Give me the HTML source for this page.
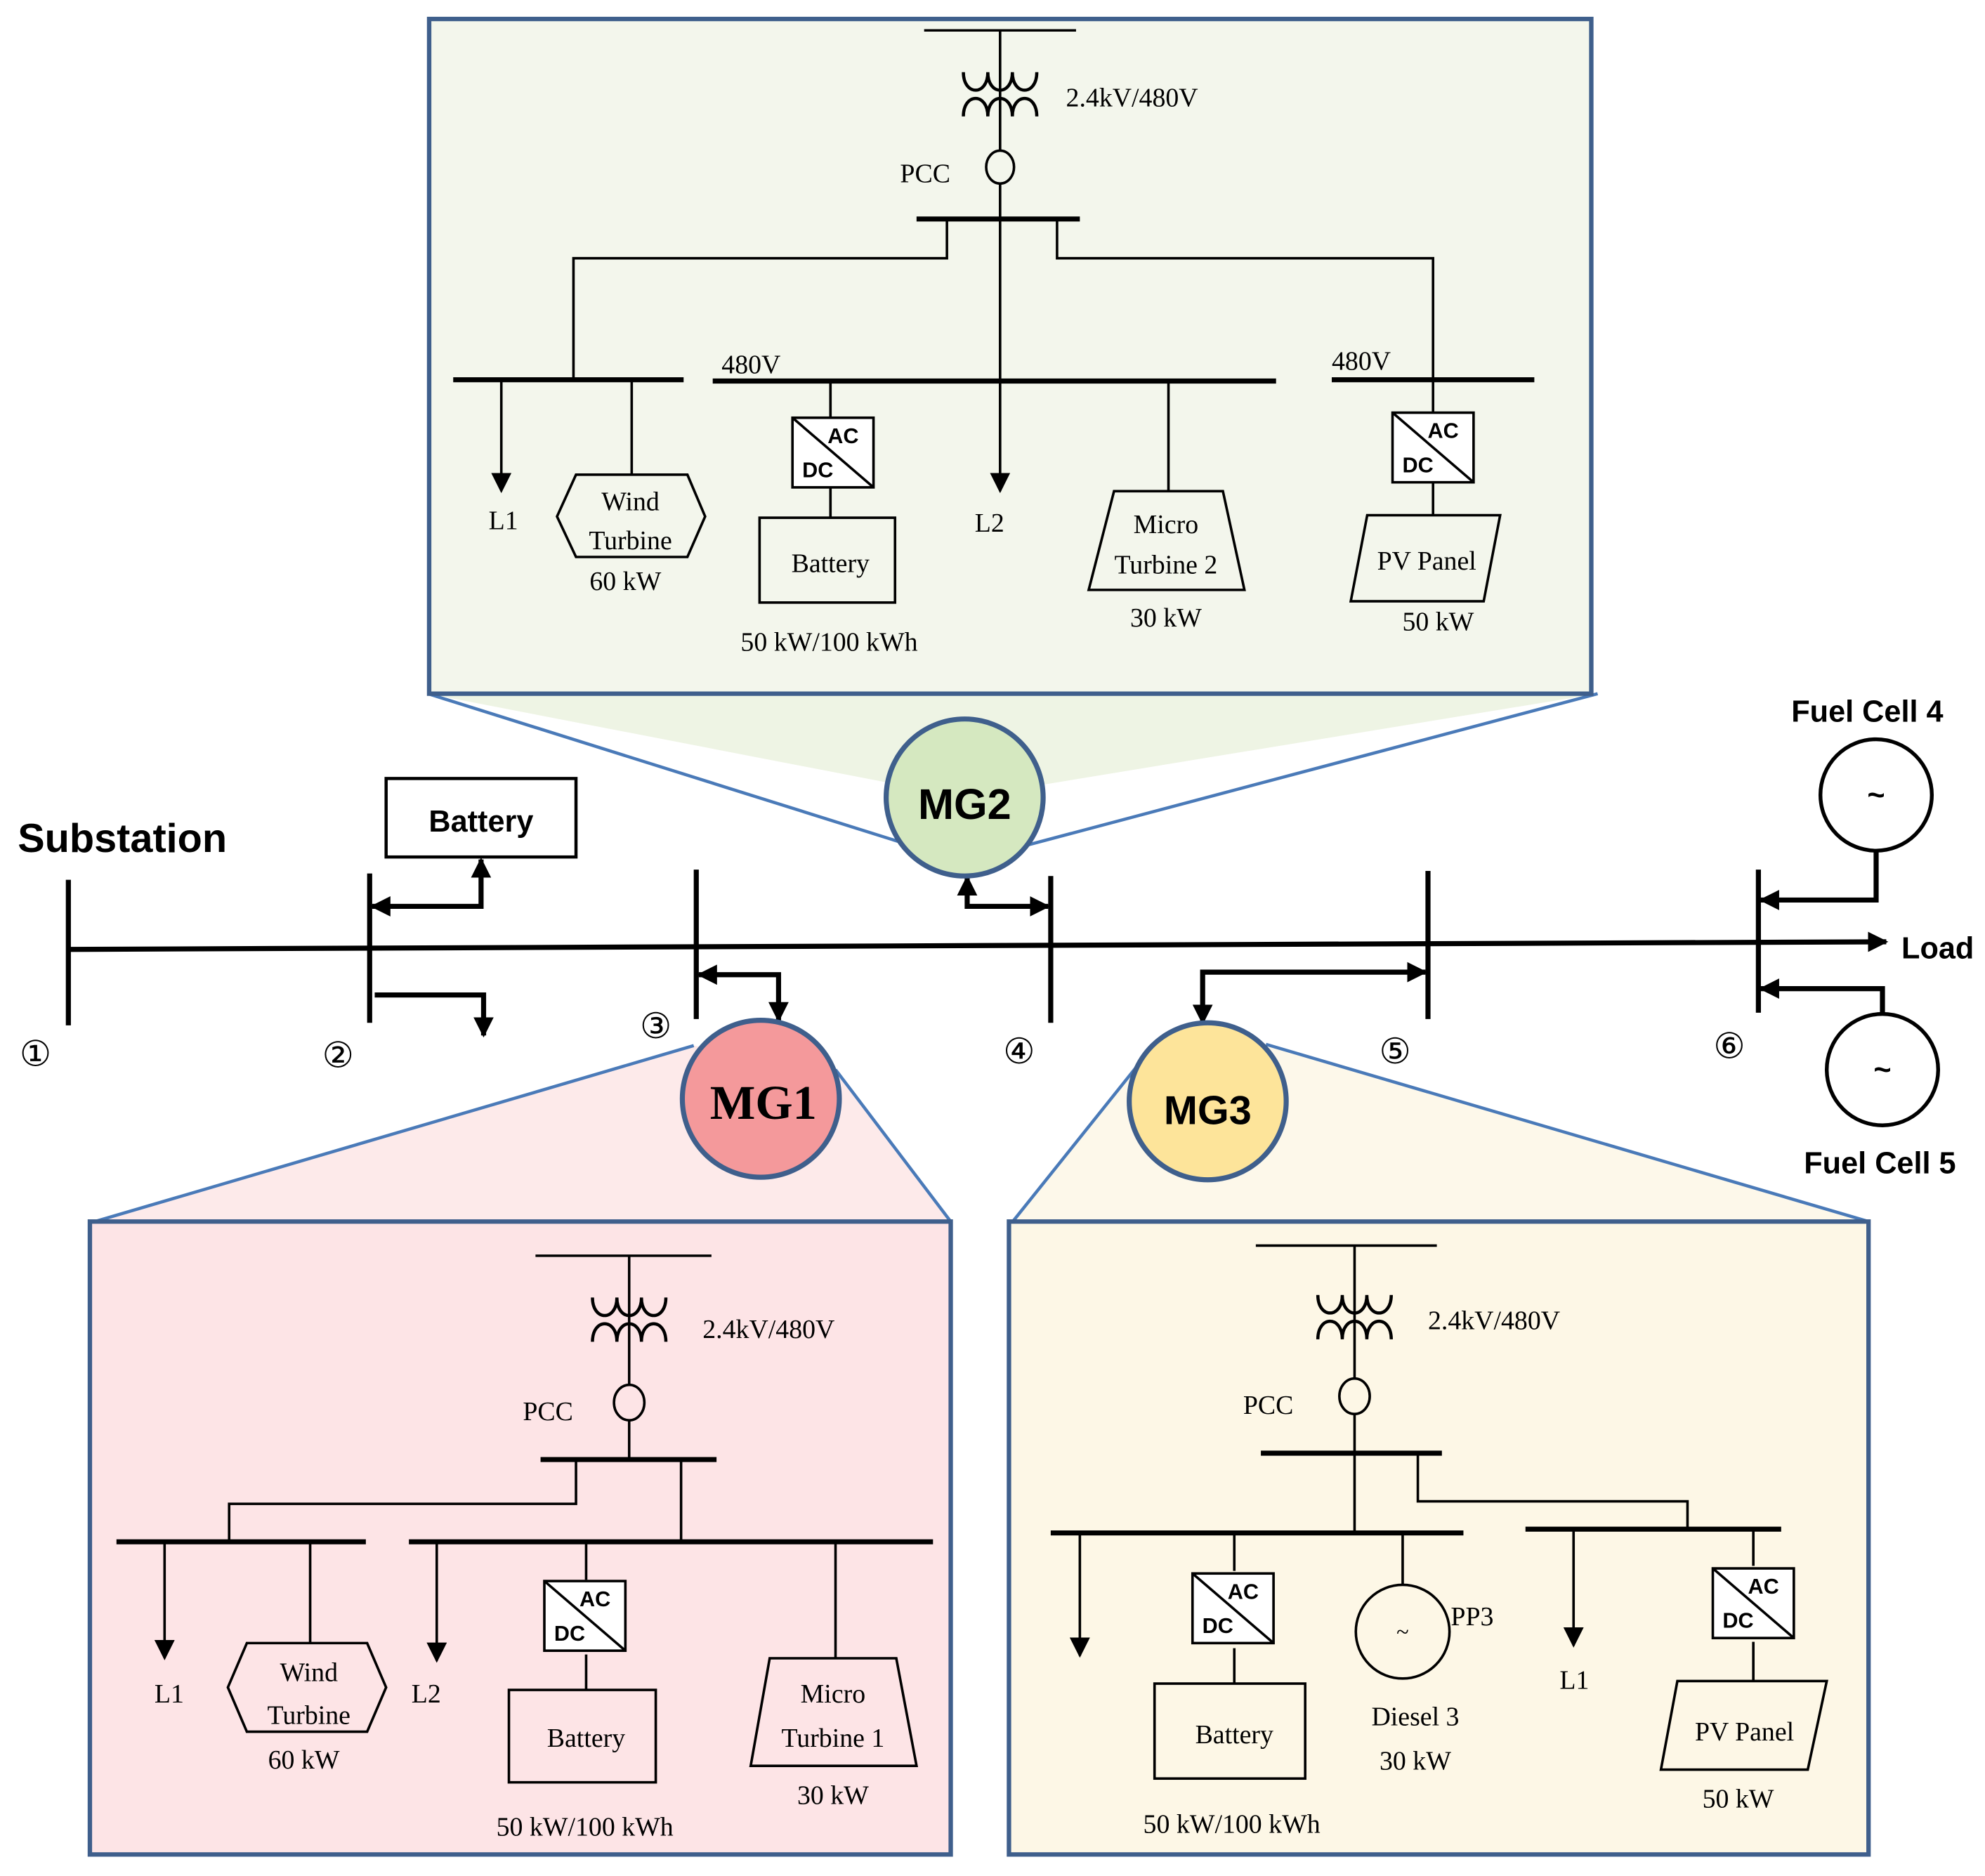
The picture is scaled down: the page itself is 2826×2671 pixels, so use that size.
<!DOCTYPE html>
<html><head><meta charset="utf-8"><style>html,body{margin:0;padding:0;background:#fff}svg{display:block}</style></head><body>
<svg width="2826" height="2671" viewBox="0 0 1568 1482" xmlns="http://www.w3.org/2000/svg">
<defs>
<marker id="a" viewBox="0 0 10 10" refX="9" refY="5" markerWidth="4" markerHeight="4" orient="auto-start-reverse" markerUnits="strokeWidth"><path d="M0,0L10,5L0,10z" fill="#000"/></marker>
<marker id="s" viewBox="0 0 10 10" refX="9" refY="5" markerWidth="8" markerHeight="8" orient="auto" markerUnits="strokeWidth"><path d="M0,0L10,5L0,10z" fill="#000"/></marker>
<g id="tx" fill="none" stroke="#000" stroke-width="2.5">
<path d="M-29,-17 C-29,2 -9.7,2 -9.7,-17 C-9.7,2 9.7,2 9.7,-17 C9.7,2 29,2 29,-17"/>
<path d="M-29,18 C-29,-1 -9.7,-1 -9.7,18 C-9.7,-1 9.7,-1 9.7,18 C9.7,-1 29,-1 29,18"/>
</g>
<g id="acdc"><rect x="0" y="0" width="64" height="55" fill="#fff" stroke="#000" stroke-width="2"/><line x1="0" y1="0" x2="64" y2="55" stroke="#000" stroke-width="2"/><text x="40" y="20" font-family="Liberation Sans,sans-serif" font-weight="bold" font-size="17" text-anchor="middle">AC</text><text x="20" y="47" font-family="Liberation Sans,sans-serif" font-weight="bold" font-size="17" text-anchor="middle">DC</text></g>
</defs>

<!-- MG2 panel -->
<polygon points="338,548 1262,548 762,630" fill="#eef4e4"/>
<line x1="338" y1="548" x2="720" y2="668" stroke="#4a7ab8" stroke-width="2.5"/>
<line x1="1262" y1="548" x2="810" y2="668" stroke="#4a7ab8" stroke-width="2.5"/>
<rect x="339" y="15" width="918" height="533" fill="#f3f6ec" stroke="#3f5f8c" stroke-width="3.5"/>
<!-- MG1 panel -->
<polygon points="75,965 751,965 660,845 548,826" fill="#fdeaea"/>
<line x1="75" y1="965" x2="548" y2="826" stroke="#4a7ab8" stroke-width="2.5"/>
<line x1="751" y1="965" x2="660" y2="845" stroke="#4a7ab8" stroke-width="2.5"/>
<rect x="71" y="965" width="680" height="500" fill="#fde4e6" stroke="#3f5f8c" stroke-width="3.5"/>
<!-- MG3 panel -->
<polygon points="800,965 1476,965 1000,825 900,840" fill="#fdf8ea"/>
<line x1="800" y1="965" x2="900" y2="840" stroke="#4a7ab8" stroke-width="2.5"/>
<line x1="1476" y1="965" x2="1000" y2="825" stroke="#4a7ab8" stroke-width="2.5"/>
<rect x="797" y="965" width="679" height="500" fill="#fdf7e6" stroke="#3f5f8c" stroke-width="3.5"/>

<g font-family="Liberation Serif,serif" font-size="21" fill="#000">
<!-- MG2 content -->
<g stroke="#000" stroke-width="2" fill="none">
<line x1="730" y1="24" x2="850" y2="24"/><line x1="790" y1="24" x2="790" y2="119"/>
<ellipse cx="790" cy="132" rx="11" ry="13"/>
<line x1="790" y1="145" x2="790" y2="301"/>
<line x1="724" y1="173" x2="853" y2="173" stroke-width="4"/>
<polyline points="748,173 748,204 453,204 453,300"/>
<polyline points="835,173 835,204 1132,204 1132,300"/>
<line x1="358" y1="300" x2="540" y2="300" stroke-width="4"/>
<line x1="563" y1="301" x2="1008" y2="301" stroke-width="4"/>
<line x1="1052" y1="300" x2="1212" y2="300" stroke-width="4"/>
<line x1="396" y1="300" x2="396" y2="388" marker-end="url(#s)"/>
<line x1="499" y1="300" x2="499" y2="375"/>
<polygon points="455,375 543,375 557,408 543,440 455,440 440,408"/>
<line x1="656" y1="301" x2="656" y2="330"/><line x1="656" y1="383" x2="656" y2="409"/>
<rect x="600" y="409" width="107" height="67"/>
<line x1="790" y1="301" x2="790" y2="388" marker-end="url(#s)"/>
<line x1="923" y1="301" x2="923" y2="388"/>
<polygon points="880,388 966,388 983,466 860,466"/>
<line x1="1132" y1="300" x2="1132" y2="326"/><line x1="1132" y1="380" x2="1132" y2="407"/>
<polygon points="1080,407 1185,407 1172,475 1067,475"/>
</g>
<use href="#tx" x="790" y="74"/>
<use href="#acdc" x="626" y="330"/>
<use href="#acdc" x="1100" y="326"/>
<text x="842" y="84">2.4kV/480V</text><text x="711" y="144">PCC</text>
<text x="570" y="295">480V</text><text x="1052" y="292">480V</text>
<text x="386" y="418">L1</text><text x="770" y="420">L2</text>
<text x="498" y="403" text-anchor="middle">Wind</text><text x="498" y="434" text-anchor="middle">Turbine</text><text x="494" y="466" text-anchor="middle">60 kW</text>
<text x="656" y="452" text-anchor="middle">Battery</text><text x="655" y="514" text-anchor="middle">50 kW/100 kWh</text>
<text x="921" y="421" text-anchor="middle">Micro</text><text x="921" y="453" text-anchor="middle">Turbine 2</text><text x="921" y="495" text-anchor="middle">30 kW</text>
<text x="1127" y="450" text-anchor="middle">PV Panel</text><text x="1136" y="498" text-anchor="middle">50 kW</text>

<!-- MG1 content -->
<g stroke="#000" stroke-width="2" fill="none">
<line x1="423" y1="992" x2="562" y2="992"/><line x1="497" y1="992" x2="497" y2="1094"/>
<ellipse cx="497" cy="1108" rx="12" ry="14"/>
<line x1="497" y1="1122" x2="497" y2="1153"/>
<line x1="427" y1="1153" x2="566" y2="1153" stroke-width="4"/>
<polyline points="455,1153 455,1188 181,1188 181,1218"/>
<line x1="538" y1="1153" x2="538" y2="1218"/>
<line x1="92" y1="1218" x2="289" y2="1218" stroke-width="4"/>
<line x1="323" y1="1218" x2="737" y2="1218" stroke-width="4"/>
<line x1="130" y1="1218" x2="130" y2="1310" marker-end="url(#s)"/>
<line x1="245" y1="1218" x2="245" y2="1298"/>
<polygon points="195,1298 290,1298 305,1333 290,1368 195,1368 180,1333"/>
<line x1="345" y1="1218" x2="345" y2="1312" marker-end="url(#s)"/>
<line x1="463" y1="1218" x2="463" y2="1248"/><line x1="463" y1="1307" x2="463" y2="1335"/>
<rect x="402" y="1335" width="116" height="73"/>
<line x1="660" y1="1218" x2="660" y2="1310"/>
<polygon points="608,1310 708,1310 724,1395 593,1395"/>
</g>
<use href="#tx" x="497" y="1042"/>
<use href="#acdc" x="430" y="1249"/>
<text x="555" y="1057">2.4kV/480V</text><text x="413" y="1122">PCC</text>
<text x="122" y="1345">L1</text><text x="325" y="1345">L2</text>
<text x="244" y="1328" text-anchor="middle">Wind</text><text x="244" y="1362" text-anchor="middle">Turbine</text><text x="240" y="1397" text-anchor="middle">60 kW</text>
<text x="463" y="1380" text-anchor="middle">Battery</text><text x="462" y="1450" text-anchor="middle">50 kW/100 kWh</text>
<text x="658" y="1345" text-anchor="middle">Micro</text><text x="658" y="1380" text-anchor="middle">Turbine 1</text><text x="658" y="1425" text-anchor="middle">30 kW</text>

<!-- MG3 content -->
<g stroke="#000" stroke-width="2" fill="none">
<line x1="992" y1="984" x2="1135" y2="984"/><line x1="1070" y1="984" x2="1070" y2="1089"/>
<ellipse cx="1070" cy="1103" rx="12" ry="14"/>
<line x1="1070" y1="1117" x2="1070" y2="1211"/>
<line x1="996" y1="1148" x2="1139" y2="1148" stroke-width="4"/>
<polyline points="1120,1148 1120,1186 1333,1186 1333,1208"/>
<line x1="830" y1="1211" x2="1156" y2="1211" stroke-width="4"/>
<line x1="1205" y1="1208" x2="1407" y2="1208" stroke-width="4"/>
<line x1="853" y1="1211" x2="853" y2="1308" marker-end="url(#s)"/>
<line x1="975" y1="1211" x2="975" y2="1241"/><line x1="975" y1="1302" x2="975" y2="1330"/>
<rect x="912" y="1330" width="119" height="75"/>
<line x1="1108" y1="1211" x2="1108" y2="1252"/>
<circle cx="1108" cy="1289" r="37"/>
<line x1="1243" y1="1208" x2="1243" y2="1300" marker-end="url(#s)"/>
<line x1="1385" y1="1208" x2="1385" y2="1237"/><line x1="1385" y1="1297" x2="1385" y2="1328"/>
<polygon points="1325,1328 1443,1328 1428,1398 1312,1398"/>
</g>
<use href="#tx" x="1070" y="1040"/>
<use href="#acdc" x="942" y="1243"/>
<use href="#acdc" x="1353" y="1239"/>
<text x="1128" y="1050">2.4kV/480V</text><text x="982" y="1117">PCC</text>
<text x="1108" y="1295" text-anchor="middle" font-size="18">~</text>
<text x="1146" y="1284">PP3</text>
<text x="1118" y="1363" text-anchor="middle">Diesel 3</text><text x="1118" y="1398" text-anchor="middle">30 kW</text>
<text x="1232" y="1334">L1</text>
<text x="975" y="1377" text-anchor="middle">Battery</text><text x="973" y="1448" text-anchor="middle">50 kW/100 kWh</text>
<text x="1378" y="1375" text-anchor="middle">PV Panel</text><text x="1373" y="1428" text-anchor="middle">50 kW</text>

<!-- bus numbers -->
<g font-size="28">
<text x="28" y="842" text-anchor="middle">①</text><text x="267" y="843" text-anchor="middle">②</text>
<text x="518" y="820" text-anchor="middle">③</text><text x="805" y="840" text-anchor="middle">④</text>
<text x="1102" y="840" text-anchor="middle">⑤</text><text x="1366" y="836" text-anchor="middle">⑥</text>
</g>
</g>

<!-- main network -->
<g stroke="#000" stroke-width="4" fill="none">
<line x1="54" y1="750" x2="1490" y2="744" marker-end="url(#a)"/>
<line x1="54" y1="695" x2="54" y2="810"/>
<line x1="292" y1="690" x2="292" y2="808"/>
<line x1="550" y1="687" x2="550" y2="805"/>
<line x1="830" y1="692" x2="830" y2="808"/>
<line x1="1128" y1="688" x2="1128" y2="805"/>
<line x1="1389" y1="687" x2="1389" y2="800"/>
<polyline points="294,716 380,716 380,679" marker-start="url(#a)" marker-end="url(#a)"/>
<polyline points="296,786 382,786 382,818" marker-end="url(#a)"/>
<polyline points="552,770 615,770 615,806" marker-start="url(#a)" marker-end="url(#a)"/>
<polyline points="764,693 764,716 828,716" marker-start="url(#a)" marker-end="url(#a)"/>
<polyline points="1126,768 950,768 950,808" marker-start="url(#a)" marker-end="url(#a)"/>
<polyline points="1482,672 1482,711 1391,711" marker-end="url(#a)"/>
<polyline points="1487,801 1487,781 1391,781" marker-end="url(#a)"/>
</g>
<rect x="305" y="615" width="150" height="62" fill="#fff" stroke="#000" stroke-width="2.5"/>
<circle cx="1482" cy="628" r="44" fill="#fff" stroke="#000" stroke-width="3"/>
<circle cx="1487" cy="845" r="44" fill="#fff" stroke="#000" stroke-width="3"/>

<circle cx="762" cy="630" r="62" fill="#d5e8c0" stroke="#3f5f8c" stroke-width="4"/>
<circle cx="601" cy="868" r="62" fill="#f4999b" stroke="#3f5f8c" stroke-width="4"/>
<circle cx="954" cy="870" r="62" fill="#fde49a" stroke="#3f5f8c" stroke-width="4"/>

<g font-family="Liberation Sans,sans-serif" font-weight="bold" fill="#000">
<text x="14" y="673" font-size="32">Substation</text>
<text x="380" y="657" font-size="24" text-anchor="middle">Battery</text>
<text x="1502" y="757" font-size="24">Load</text>
<text x="1415" y="570" font-size="24">Fuel Cell 4</text>
<text x="1425" y="927" font-size="24">Fuel Cell 5</text>
<text x="1482" y="636" font-size="24" text-anchor="middle">~</text>
<text x="1487" y="853" font-size="24" text-anchor="middle">~</text>
<text x="762" y="647" font-size="34" text-anchor="middle">MG2</text>
<text x="954" y="888" font-size="32" text-anchor="middle">MG3</text>
</g>
<text x="603" y="884" font-family="Liberation Serif,serif" font-weight="bold" font-size="38" text-anchor="middle">MG1</text>
</svg>
</body></html>
